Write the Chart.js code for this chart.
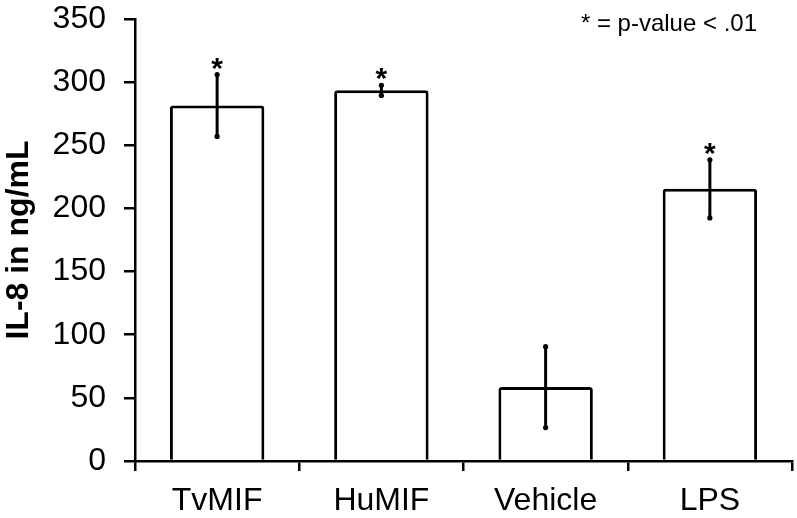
<!DOCTYPE html>
<html>
<head>
<meta charset="utf-8">
<script src="https://cdn.jsdelivr.net/npm/chart.js@4"></script>
<style>
  html, body { margin: 0; padding: 0; background: #fff; overflow: hidden; }
  #wrap { width: 797px; height: 518px; position: relative; }
</style>
</head>
<body>
<div id="wrap"><canvas id="c" width="797" height="518"></canvas></div>
<script>
const categories = ["TvMIF", "HuMIF", "Vehicle", "LPS"];
const il8Values = [281.5, 293.5, 58.5, 215.5];
const il8Errors = [24.5, 4, 32, 23];
const significant = [true, true, false, true];
const yTicks = [0, 50, 100, 150, 200, 250, 300, 350];
const yTitle = "IL-8 in ng/mL";
const noteText = "* = p-value < .01";

const FONT = "'Liberation Sans', Arial, sans-serif";

const errorBarPlugin = {
  id: 'errorBars',
  afterDatasetsDraw(chart) {
    const ctx = chart.ctx;
    const meta = chart.getDatasetMeta(0);
    const y = chart.scales.y;
    ctx.save();
    ctx.strokeStyle = '#000';
    ctx.fillStyle = '#000';
    ctx.lineWidth = 3;
    ctx.lineCap = 'round';
    meta.data.forEach((bar, i) => {
      const v = il8Values[i], e = il8Errors[i];
      const x = bar.x;
      const yTop = y.getPixelForValue(v + e);
      const yBot = y.getPixelForValue(v - e);
      ctx.beginPath();
      ctx.moveTo(x, yTop);
      ctx.lineTo(x, yBot);
      ctx.stroke();
      [yTop, yBot].forEach(yy => {
        ctx.beginPath();
        ctx.arc(x, yy, 2.6, 0, Math.PI * 2);
        ctx.fill();
      });
      if (significant[i]) {
        ctx.font = "bold 30px " + FONT;
        ctx.textAlign = 'center';
        ctx.textBaseline = 'alphabetic';
        ctx.fillText('*', x, yTop + 3);
      }
    });
    ctx.restore();
  }
};

const notePlugin = {
  id: 'note',
  afterDraw(chart) {
    const ctx = chart.ctx;
    ctx.save();
    ctx.font = "24px " + FONT;
    ctx.fillStyle = '#000';
    ctx.textAlign = 'right';
    ctx.textBaseline = 'alphabetic';
    ctx.fillText(noteText, 757, 31);
    ctx.restore();
  }
};

new Chart(document.getElementById('c'), {
  type: 'bar',
  data: {
    labels: categories,
    datasets: [{
      data: il8Values,
      backgroundColor: '#ffffff',
      borderColor: '#000000',
      borderWidth: 3,
      borderRadius: 3,
      borderSkipped: 'bottom',
      barPercentage: 0.575,
      categoryPercentage: 1.0
    }]
  },
  options: {
    responsive: false,
    animation: false,
    devicePixelRatio: 1,
    layout: { padding: { top: 0, right: 5, left: 0, bottom: 0 } },
    plugins: {
      legend: { display: false },
      tooltip: { enabled: false },
      title: { display: false }
    },
    scales: {
      x: {
        grid: {
          display: true,
          drawOnChartArea: false,
          drawTicks: true,
          tickLength: 10,
          color: '#000',
          lineWidth: 2.5,
          offset: true
        },
        border: { display: true, color: '#000', width: 2.5 },
        ticks: {
          color: '#000',
          font: { family: FONT, size: 32 },
          padding: 11,
          maxRotation: 0
        },
        afterFit(s) { s.height = 57; s.paddingLeft = 0; s.paddingRight = 0; }
      },
      y: {
        min: 0,
        max: 350,
        afterBuildTicks(s) { s.ticks = yTicks.map(v => ({ value: v })); },
        grid: {
          display: true,
          drawOnChartArea: false,
          drawTicks: true,
          tickLength: 11,
          color: '#000',
          lineWidth: 2.5
        },
        border: { display: true, color: '#000', width: 2.5 },
        ticks: {
          color: '#000',
          font: { family: FONT, size: 32 },
          padding: 18
        },
        title: {
          display: true,
          text: yTitle,
          color: '#000',
          font: { family: FONT, size: 32, weight: 'bold' },
          padding: { top: 0, bottom: 0 }
        },
        afterFit(s) { s.width = 135; s.paddingTop = 19; s.paddingBottom = 0; }
      }
    }
  },
  plugins: [errorBarPlugin, notePlugin]
});
</script>
</body>
</html>
